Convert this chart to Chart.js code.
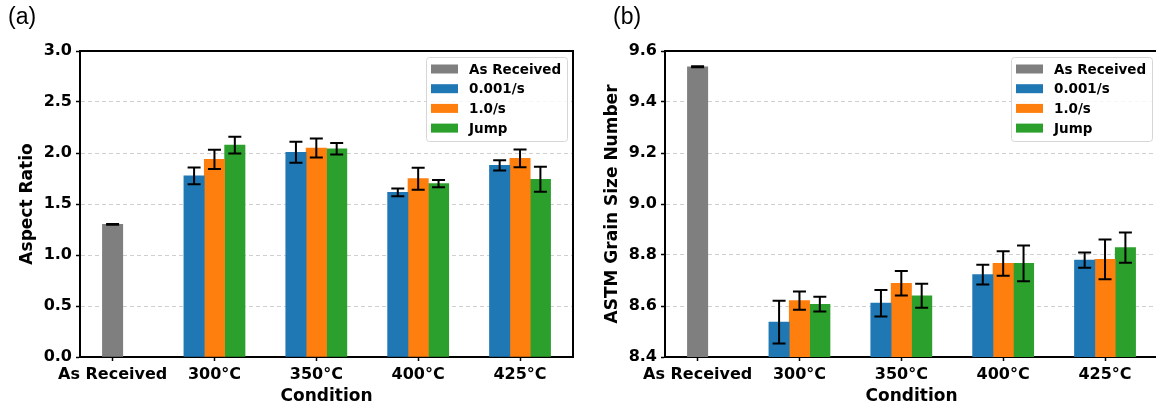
<!DOCTYPE html>
<html>
<head>
<meta charset="utf-8">
<script src="https://cdn.jsdelivr.net/npm/chart.js@4.4.0/dist/chart.umd.min.js"></script>
<style>
  body { margin: 0; width: 1156px; height: 406px; overflow: hidden; background: #fff; position: relative; }
  .panel { position: absolute; top: 0; width: 578px; height: 406px; }
  .tag { position: absolute; top: 3px; font-family: "Liberation Sans", Arial, sans-serif; font-size: 23px; color: #000; }
</style>
</head>
<body>
<div class="panel" style="left:0"><canvas id="aspect-chart" width="578" height="406"></canvas></div>
<div class="panel" style="left:585px"><canvas id="grain-chart" width="578" height="406"></canvas></div>
<div class="tag" style="left:8px">(a)</div>
<div class="tag" style="left:613px">(b)</div>
<script>
const conditions = ['As Received', '300°C', '350°C', '400°C', '425°C'];
const rateLabels = ['0.001/s', '1.0/s', 'Jump'];
const rateColors = ['#1f77b4', '#ff7f0e', '#2ca02c'];
const receivedColor = '#7f7f7f';

// aspect ratio (mean, std) — heat-treated values are for 300, 350, 400, 425 °C
const aspectReceived = [1.30];
const aspectReceivedErr = [0.003];
const aspectSlow = [1.775, 2.007, 1.615, 1.879];
const aspectSlowErr = [0.082, 0.103, 0.038, 0.051];
const aspectFast = [1.938, 2.049, 1.748, 1.948];
const aspectFastErr = [0.094, 0.092, 0.108, 0.087];
const aspectJump = [2.078, 2.042, 1.699, 1.742];
const aspectJumpErr = [0.082, 0.056, 0.036, 0.123];

// ASTM grain size number
const grainReceived = [9.538];
const grainReceivedErr = [0.002];
const grainSlow = [8.537, 8.611, 8.723, 8.780];
const grainSlowErr = [0.084, 0.052, 0.039, 0.030];
const grainFast = [8.621, 8.689, 8.767, 8.783];
const grainFastErr = [0.036, 0.048, 0.048, 0.078];
const grainJump = [8.607, 8.640, 8.767, 8.829];
const grainJumpErr = [0.029, 0.047, 0.070, 0.059];

// bar offsets inside a temperature group, in category units
const groupOffsets = [-0.2, 0, 0.2];

const tickFont = { family: 'DejaVu Sans', weight: 'bold', size: 16 };
const titleFont = { family: 'DejaVu Sans', weight: 'bold', size: 17, lineHeight: 1.1 };

function makeDatasets(received, receivedErr, series, errors) {
    let sets = [{
        label: 'As Received',
        data: received.map((v, i) => ({ x: i, y: v })),
        errors: receivedErr,
        backgroundColor: receivedColor,
    }];
    series.forEach((values, s) => {
        sets.push({
            label: rateLabels[s],
            data: values.map((v, i) => ({ x: i + 1 + groupOffsets[s], y: v })),
            errors: errors[s],
            backgroundColor: rateColors[s],
        });
    });
    return sets;
}

const errorBars = {
    id: 'errorBars',
    afterDatasetsDraw(chart) {
        const ctx = chart.ctx;
        const yScale = chart.scales.y;
        ctx.save();
        ctx.strokeStyle = '#000';
        ctx.lineWidth = 2;
        chart.data.datasets.forEach((ds, d) => {
            chart.getDatasetMeta(d).data.forEach((bar, i) => {
                const v = ds.data[i].y;
                const e = ds.errors[i];
                const top = yScale.getPixelForValue(v + e);
                const bottom = yScale.getPixelForValue(v - e);
                ctx.beginPath();
                ctx.moveTo(bar.x, top);
                ctx.lineTo(bar.x, bottom);
                ctx.moveTo(bar.x - 6.5, top);
                ctx.lineTo(bar.x + 6.5, top);
                ctx.moveTo(bar.x - 6.5, bottom);
                ctx.lineTo(bar.x + 6.5, bottom);
                ctx.stroke();
            });
        });
        ctx.restore();
    }
};

// closes the axes box and draws the legend in the upper right corner
const frameAndLegend = {
    id: 'frameAndLegend',
    afterDraw(chart) {
        const ctx = chart.ctx;
        const a = chart.chartArea;
        ctx.save();
        ctx.strokeStyle = '#000';
        ctx.lineWidth = 2;
        ctx.beginPath();
        ctx.moveTo(a.left, a.top);
        ctx.lineTo(a.right, a.top);
        ctx.lineTo(a.right, a.bottom);
        ctx.stroke();

        const w = 141, h = 84;
        const bx = a.right - 6 - w;
        const by = a.top + 6;
        ctx.beginPath();
        ctx.roundRect(bx + 0.5, by + 0.5, w, h, 3);
        ctx.fillStyle = 'rgba(255,255,255,0.8)';
        ctx.fill();
        ctx.strokeStyle = '#d6d6d6';
        ctx.lineWidth = 1;
        ctx.stroke();

        ctx.font = 'bold 13.5px "DejaVu Sans"';
        ctx.textBaseline = 'middle';
        chart.data.datasets.forEach((ds, i) => {
            const cy = by + 12 + i * 19.7;
            ctx.fillStyle = ds.backgroundColor;
            ctx.fillRect(bx + 5, cy - 4.5, 27, 9);
            ctx.fillStyle = '#000';
            ctx.fillText(ds.label, bx + 43, cy + 1);
        });
        ctx.restore();
    }
};

function buildChart(canvasId, datasets, yMin, yMax, yStep, yTitle) {
    const ctx = document.getElementById(canvasId);
    return new Chart(ctx, {
        type: 'bar',
        data: { datasets: datasets },
        options: {
            responsive: false,
            animation: false,
            layout: { padding: { top: 51, right: 5, bottom: 0, left: 0 } },
            datasets: { bar: { grouped: false, barPercentage: 1, categoryPercentage: 1 } },
            plugins: { legend: { display: false }, tooltip: { enabled: false } },
            scales: {
                x: {
                    type: 'linear',
                    offset: false,
                    min: -0.32,
                    max: 4.52,
                    afterBuildTicks: s => { s.ticks = conditions.map((c, i) => ({ value: i })); },
                    afterFit: s => { s.height = 49; },
                    ticks: {
                        callback: v => conditions[v],
                        font: tickFont,
                        color: '#000',
                        padding: 4,
                        maxRotation: 0,
                        autoSkip: false,
                    },
                    grid: { offset: false, drawOnChartArea: false, tickLength: 4, tickColor: '#000', tickWidth: 1.5 },
                    border: { color: '#000', width: 2 },
                    title: { display: true, text: 'Condition', font: titleFont, color: '#000', padding: { top: 0, bottom: 0 } },
                },
                y: {
                    min: yMin,
                    max: yMax,
                    afterFit: s => { s.width = 80; },
                    ticks: { stepSize: yStep, callback: v => v.toFixed(1), font: tickFont, color: '#000', padding: 4 },
                    grid: { color: '#cfcfcf', lineWidth: 1, tickLength: 4, tickColor: '#000', tickWidth: 1.5, tickBorderDash: [] },
                    border: { color: '#000', width: 2, dash: [4, 3] },
                    title: { display: true, text: yTitle, font: titleFont, color: '#000', padding: { top: 18, bottom: 0 } },
                },
            },
        },
        plugins: [errorBars, frameAndLegend],
    });
}

buildChart('aspect-chart',
    makeDatasets(aspectReceived, aspectReceivedErr,
        [aspectSlow, aspectFast, aspectJump], [aspectSlowErr, aspectFastErr, aspectJumpErr]),
    0, 3.0, 0.5, 'Aspect Ratio');

buildChart('grain-chart',
    makeDatasets(grainReceived, grainReceivedErr,
        [grainSlow, grainFast, grainJump], [grainSlowErr, grainFastErr, grainJumpErr]),
    8.4, 9.6, 0.2, 'ASTM Grain Size Number');
</script>
</body>
</html>
